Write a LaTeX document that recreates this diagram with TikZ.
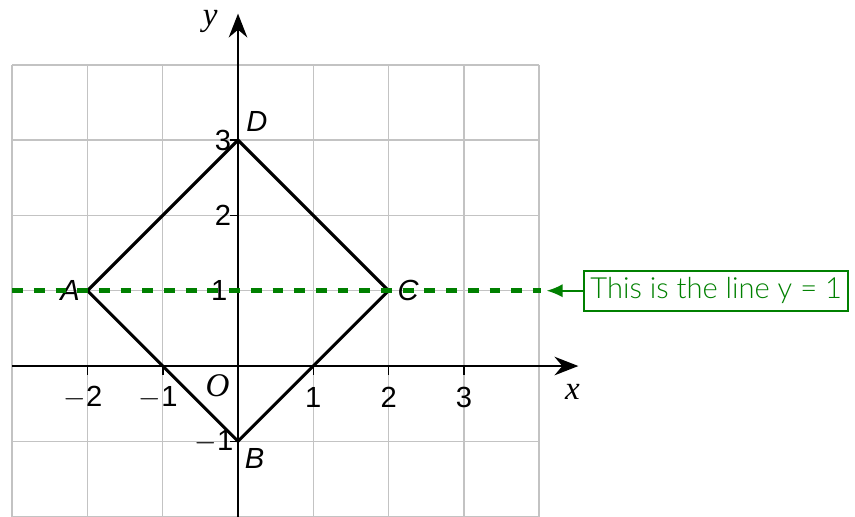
\documentclass[tikz,border=0pt]{standalone}
\usepackage{fontspec}
\setmainfont{Liberation Sans}
\newfontfamily\serifit{Liberation Serif}
\newfontfamily\lato{Lato Light}
\usetikzlibrary{arrows.meta}
\definecolor{dgreen}{RGB}{0,128,0}
\definecolor{gridgray}{RGB}{195,195,195}
\begin{document}
\begin{tikzpicture}[
  gridline/.style={gridgray, line width=0.55pt},
  axisline/.style={black, line width=0.9pt, -{Stealth[length=9pt,width=7pt]}},
  tickmark/.style={black, line width=0.6pt},
  ticklabel/.style={font=\fontsize{11}{12}\selectfont, inner sep=1pt},
  ptlabel/.style={font=\fontsize{11}{12}\selectfont\itshape, inner sep=1pt},
  axlabel/.style={font=\fontsize{12.5}{13}\selectfont\serifit\itshape, inner sep=1pt},
  shapeline/.style={black, line width=1.15pt},
  yline/.style={dgreen, line width=1.8pt, dash pattern=on 4.1pt off 4.1pt},
  notebox/.style={draw=dgreen, line width=0.8pt, text=dgreen, font=\fontsize{11}{12}\selectfont\lato, minimum width=3.5cm, minimum height=0.53cm, inner sep=2pt},
  notearrow/.style={dgreen, line width=0.6pt, -{Latex[length=6pt,width=5pt]}}
]
\useasboundingbox (-3.161,-1.992) rectangle (8.194,4.861);
% grid
\draw[gridline] (-3,-2) grid (4,4);
% axes
\coordinate (xs) at (-3,0);
\coordinate (xe) at (4.52,0);
\coordinate (ys) at (0,-2);
\coordinate (ye) at (0,4.68);
\draw[axisline] (xs) -- (xe);
\draw[axisline] (ys) -- (ye);
% ticks
\foreach \x in {-2,-1,1,2,3} \draw[tickmark] (\x,0) -- (\x,-0.12);
\foreach \y in {-1,1,2,3} \draw[tickmark] (0,\y) -- (-0.1,\y);
\node[ticklabel] (tm2) at (-2.06,-0.42) {$-$2};
\node[ticklabel] (tm1) at (-1.06,-0.42) {$-$1};
\node[ticklabel] (t1) at (1,-0.42) {1};
\node[ticklabel] (t2) at (2,-0.42) {2};
\node[ticklabel] (t3) at (3,-0.42) {3};
\node[ticklabel] (l3) at (-0.2,3) {3};
\node[ticklabel] (l2) at (-0.2,2) {2};
\node[ticklabel] (l1) at (-0.25,1) {1};
\node[ticklabel] (lm1) at (-0.32,-1) {$-$1};
\node[axlabel] (xl) at (4.44,-0.35) {x};
\node[axlabel] (yl) at (-0.37,4.57) {y};
\node[axlabel] (ol) at (-0.27,-0.26) {O};
% points
\coordinate (A) at (-2,1);
\coordinate (B) at (0,-1);
\coordinate (C) at (2,1);
\coordinate (D) at (0,3);
\draw[shapeline, line join=miter] (A) -- (D) -- (C) -- (B) -- cycle;
\node[ptlabel] (Al) at (-2.23,1) {A};
\node[ptlabel] (Bl) at (0.22,-1.23) {B};
\node[ptlabel] (Cl) at (2.26,1) {C};
\node[ptlabel] (Dl) at (0.25,3.25) {D};
% line y = 1
\coordinate (ls) at (-3,1);
\coordinate (le) at (4.02,1);
\draw[yline] (ls) -- (le);
\node[notebox] (note) at (6.35,1) {This is the line y = 1};
\coordinate (tip) at (4.10,1);
\draw[notearrow] (note.west) -- (tip);
\end{tikzpicture}
\end{document}
